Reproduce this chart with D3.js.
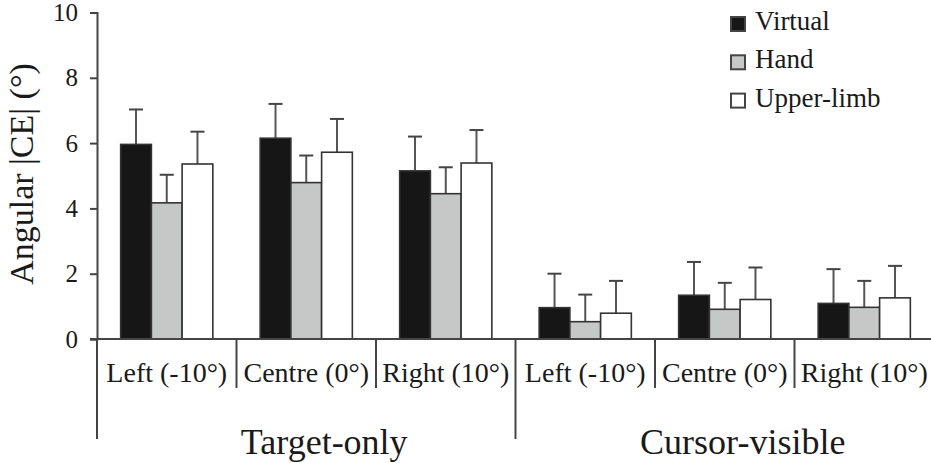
<!doctype html>
<html>
<head>
<meta charset="utf-8">
<script src="https://d3js.org/d3.v7.min.js"></script>
</head>
<body style="margin:0">
<svg width="931" height="463"></svg>
<script>
// values
var sections = ["Target-only", "Cursor-visible"];
var conditions = ["Left (-10°)", "Centre (0°)", "Right (10°)"];
var series = ["Virtual", "Hand", "Upper-limb"];
var yTicks = [0, 2, 4, 6, 8, 10];

var virtualMean = [5.96, 6.15, 5.15, 0.96, 1.34, 1.09];
var virtualErr  = [1.07, 1.05, 1.05, 1.04, 1.02, 1.05];
var handMean    = [4.17, 4.79, 4.45, 0.53, 0.91, 0.97];
var handErr     = [0.86, 0.83, 0.81, 0.83, 0.81, 0.81];
var upperMean   = [5.36, 5.72, 5.39, 0.79, 1.21, 1.26];
var upperErr    = [0.99, 1.02, 1.01, 0.99, 0.98, 0.98];

var fills = ["#161616", "#c6c8c7", "#ffffff"];
var ff = "'Liberation Serif'";
var ink = "#1a1a1a";

var svg = d3.select("svg");

// one slot per section/condition pair
var slots = [];
sections.forEach(function(s) {
  conditions.forEach(function(c) { slots.push(s + "|" + c); });
});

var x0 = d3.scaleBand().domain(slots).range([97, 934]).padding(0);
var x1 = d3.scaleBand().domain(series).range([0, x0.bandwidth()])
  .paddingInner(0).paddingOuter(0.77);
var y = d3.scaleLinear().domain([0, 10]).range([339, 12.5]);

var means = [virtualMean, handMean, upperMean];
var errs = [virtualErr, handErr, upperErr];

var rows = [];
slots.forEach(function(slot, i) {
  series.forEach(function(s, j) {
    rows.push({ slot: slot, series: s, j: j, mean: means[j][i], err: errs[j][i] });
  });
});

function cx(d) { return x0(d.slot) + x1(d.series) + x1.bandwidth() / 2; }

// error bars first so the bar outline sits over the stem
var eb = svg.append("g");
eb.selectAll("line.stem").data(rows).enter().append("line")
  .attr("x1", cx).attr("x2", cx)
  .attr("y1", function(d) { return y(d.mean); })
  .attr("y2", function(d) { return y(d.mean + d.err); })
  .attr("stroke", "#555").attr("stroke-width", 2);
eb.selectAll("line.cap").data(rows).enter().append("line")
  .attr("x1", function(d) { return cx(d) - 7; })
  .attr("x2", function(d) { return cx(d) + 7; })
  .attr("y1", function(d) { return y(d.mean + d.err); })
  .attr("y2", function(d) { return y(d.mean + d.err); })
  .attr("stroke", "#444").attr("stroke-width", 2);

svg.append("g").selectAll("rect").data(rows).enter().append("rect")
  .attr("x", function(d) { return x0(d.slot) + x1(d.series); })
  .attr("y", function(d) { return y(d.mean); })
  .attr("width", x1.bandwidth())
  .attr("height", function(d) { return y(0) - y(d.mean); })
  .attr("fill", function(d) { return fills[d.j]; })
  .attr("stroke", "#333").attr("stroke-width", 1.6);

// y axis
var yAxis = svg.append("g").attr("transform", "translate(97,0)")
  .call(d3.axisLeft(y).tickValues(yTicks).tickSize(7).tickPadding(12));
yAxis.attr("font-family", null).attr("font-size", null);
yAxis.select(".domain").attr("stroke", "#444").attr("stroke-width", 2);
yAxis.selectAll(".tick line").attr("stroke", "#444").attr("stroke-width", 2);
yAxis.selectAll(".tick text")
  .style("font-family", ff).attr("font-size", 25).attr("fill", ink);

// baseline
svg.append("line").attr("x1", 90).attr("x2", 931)
  .attr("y1", y(0)).attr("y2", y(0))
  .attr("stroke", "#444").attr("stroke-width", 2);

// separators under the axis
var bounds = slots.map(function(s) { return x0(s); }).concat([x0.range()[1]]);
svg.append("g").selectAll("line").data(bounds).enter().append("line")
  .attr("x1", function(d) { return d; }).attr("x2", function(d) { return d; })
  .attr("y1", y(0))
  .attr("y2", function(d, i) { return i % 3 === 0 ? 439 : 388; })
  .attr("stroke", "#444").attr("stroke-width", 2);

// condition labels
svg.append("g").selectAll("text").data(slots).enter().append("text")
  .attr("x", function(d) { return x0(d) + x0.bandwidth() / 2; })
  .attr("y", 382)
  .attr("text-anchor", "middle")
  .style("font-family", ff).attr("font-size", 28).attr("fill", ink)
  .text(function(d) { return d.split("|")[1]; });

// section labels
svg.append("g").selectAll("text").data(sections).enter().append("text")
  .attr("x", function(d) { return x0(d + "|" + conditions[1]) + x0.bandwidth() / 2 + 18; })
  .attr("y", 454)
  .attr("text-anchor", "middle")
  .style("font-family", ff).attr("font-size", 36).attr("fill", ink)
  .text(function(d) { return d; });

// y title
svg.append("text")
  .attr("transform", "translate(33,174) rotate(-90)")
  .attr("text-anchor", "middle")
  .style("font-family", ff).attr("font-size", 34).attr("fill", ink)
  .text("Angular |CE| (°)");

// legend
var lg = svg.append("g").attr("transform", "translate(731,0)");
var item = lg.selectAll("g").data(series).enter().append("g")
  .attr("transform", function(d, i) { return "translate(0," + (30 + i * 38.3) + ")"; });
item.append("rect").attr("x", 0).attr("y", -13).attr("width", 14).attr("height", 14)
  .attr("fill", function(d, i) { return fills[i]; })
  .attr("stroke", "#444").attr("stroke-width", 2);
item.append("text").attr("x", 24).attr("y", 0)
  .style("font-family", ff).attr("font-size", 27).attr("fill", ink)
  .text(function(d) { return d; });
</script>
</body>
</html>
